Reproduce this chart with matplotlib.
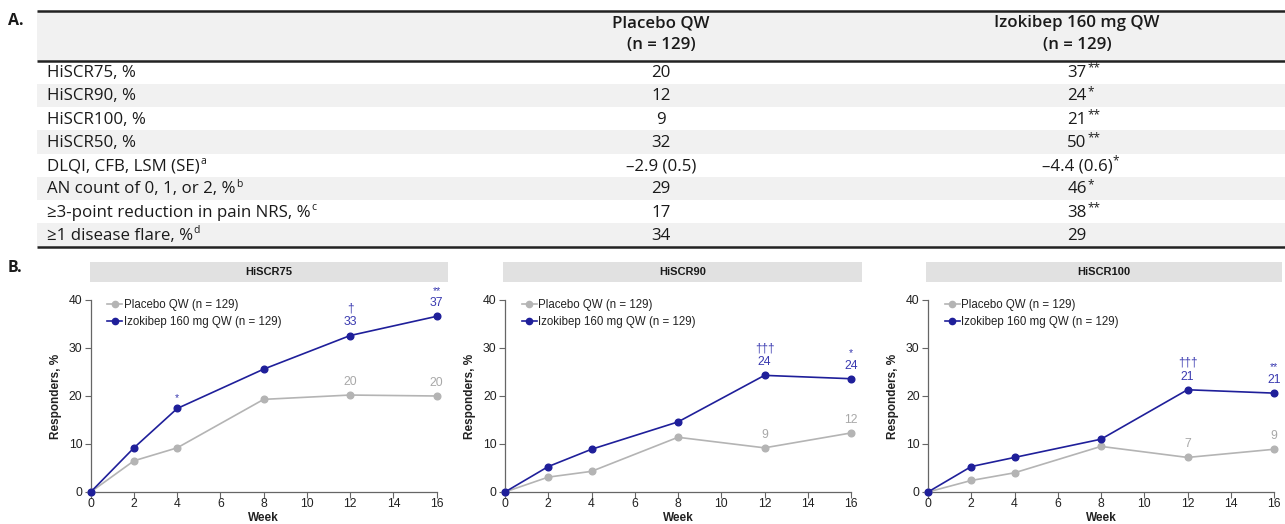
import matplotlib
matplotlib.use("Agg")
import matplotlib.pyplot as plt
from matplotlib.patches import Rectangle

W, H, DPI = 1285, 524, 100

# ---------------- Table (panel A) ----------------
row_labels = ["HiSCR75, %", "HiSCR90, %", "HiSCR100, %", "HiSCR50, %",
              "DLQI, CFB, LSM (SE)", "AN count of 0, 1, or 2, %",
              "≥3-point reduction in pain NRS, %", "≥1 disease flare, %"]
row_notes = ["", "", "", "", "a", "b", "c", "d"]
placebo_col = ["20", "12", "9", "32", "–2.9 (0.5)", "29", "17", "34"]
izokibep_col = ["37", "24", "21", "50", "–4.4 (0.6)", "46", "38", "29"]
izokibep_sig = ["**", "*", "**", "**", "*", "*", "**", ""]
col_headers = [("Placebo QW", "(n = 129)"), ("Izokibep 160 mg QW", "(n = 129)")]

# ---------------- Line charts (panel B) ----------------
weeks = [0, 2, 4, 8, 12, 16]
panel_titles = ["HiSCR75", "HiSCR90", "HiSCR100"]
placebo_hiscr75 = [0, 6.5, 9.2, 19.3, 20.2, 20.0]
izokibep_hiscr75 = [0, 9.2, 17.4, 25.6, 32.6, 36.6]
placebo_hiscr90 = [0, 3.1, 4.3, 11.4, 9.2, 12.3]
izokibep_hiscr90 = [0, 5.3, 8.9, 14.6, 24.3, 23.6]
placebo_hiscr100 = [0, 2.4, 4.0, 9.5, 7.2, 8.9]
izokibep_hiscr100 = [0, 5.3, 7.2, 11.0, 21.3, 20.6]
labelled_weeks = [12, 16]
sig_hiscr75 = {4: "*", 12: "†", 16: "**"}
sig_hiscr90 = {12: "†††", 16: "*"}
sig_hiscr100 = {12: "†††", 16: "**"}
legend_labels = ["Placebo QW (n = 129)", "Izokibep 160 mg QW (n = 129)"]

placebo_series = [placebo_hiscr75, placebo_hiscr90, placebo_hiscr100]
izokibep_series = [izokibep_hiscr75, izokibep_hiscr90, izokibep_hiscr100]
sig_marks = [sig_hiscr75, sig_hiscr90, sig_hiscr100]

TABLE_FONT = ["Open Sans", "DejaVu Sans"]
CHART_FONT = ["Liberation Sans", "DejaVu Sans"]
BLUE = "#1f1f9a"
BLUE_TXT = "#3a3ab0"
GREY = "#b4b4b4"
GREY_TXT = "#a8a8a8"
BAND = "#f1f1f1"
INK = "#1a1a1a"

fig = plt.figure(figsize=(W / DPI, H / DPI), dpi=DPI)
canvas = fig.add_axes([0, 0, 1, 1])
canvas.set_xlim(0, W)
canvas.set_ylim(H, 0)
canvas.axis("off")
renderer = fig.canvas.get_renderer()


def text_sup(x, y, main, sup, size, ha="left", sup_size=None, color=INK):
    t = canvas.text(x, y, main, ha=ha, va="center", fontsize=size,
                    family=TABLE_FONT, color=color)
    if sup:
        bb = t.get_window_extent(renderer=renderer)
        x_end = canvas.transData.inverted().transform((bb.x1, 0))[0]
        canvas.text(x_end + 0.5, y - 5, sup, ha="left", va="center",
                    fontsize=sup_size or size * 0.62, family=TABLE_FONT,
                    color=color)


# table geometry (pixel units)
tx0, tx1 = 37, W
top_rule, head_rule, bottom_rule = 11, 60.5, 246.5
row_h = (bottom_rule - head_rule) / len(row_labels)
col_x = [661, 1077]
BODY = 12.2

canvas.add_patch(Rectangle((tx0, top_rule), tx1 - tx0, head_rule - top_rule,
                           facecolor=BAND, edgecolor="none"))
for i in range(len(row_labels)):
    if i % 2 == 1:
        canvas.add_patch(Rectangle((tx0, head_rule + i * row_h), tx1 - tx0, row_h,
                                   facecolor=BAND, edgecolor="none"))
for yr in (top_rule, head_rule, bottom_rule):
    canvas.plot([tx0, tx1], [yr, yr], color="#222222", lw=1.8,
                solid_capstyle="butt")

canvas.text(8, 21, "A.", fontsize=11.5, fontweight="bold", family=TABLE_FONT,
            va="center", ha="left", color=INK)
for cx, (h1, h2) in zip(col_x, col_headers):
    canvas.text(cx, 23, h1, ha="center", va="center", fontsize=12.2,
                fontweight="semibold", family=TABLE_FONT, color=INK)
    canvas.text(cx, 45, h2, ha="center", va="center", fontsize=12.2,
                fontweight="semibold", family=TABLE_FONT, color=INK)

for i, (lab, note, pv, iv, sg) in enumerate(zip(row_labels, row_notes, placebo_col,
                                                izokibep_col, izokibep_sig)):
    yc = head_rule + (i + 0.5) * row_h + 1
    text_sup(47, yc, lab, note, BODY, sup_size=7.5)
    text_sup(col_x[0], yc, pv, "", BODY, ha="center")
    text_sup(col_x[1], yc, iv, sg, BODY, ha="center", sup_size=8.5)

# ---------------- panel B ----------------
canvas.text(8, 268, "B.", fontsize=11.5, fontweight="bold", family=TABLE_FONT,
            va="center", ha="left", color=INK)

axes_left = [90.7, 505, 928]
axes_width = 346
strip_spans = [(90, 448), (503, 862), (926, 1282)]
ax_bottom_px, ax_top_px = 492, 300

for k in range(3):
    s0, s1 = strip_spans[k]
    canvas.add_patch(Rectangle((s0, 262), s1 - s0, 20, facecolor="#e1e1e1",
                               edgecolor="none"))
    canvas.text((s0 + s1) / 2, 272, panel_titles[k], ha="center", va="center",
                fontsize=8, fontweight="bold", family=CHART_FONT, color=INK)

    ax = fig.add_axes([axes_left[k] / W, (H - ax_bottom_px) / H,
                       axes_width / W, (ax_bottom_px - ax_top_px) / H])
    ax.patch.set_alpha(0)
    pl, = ax.plot(weeks, placebo_series[k], color=GREY, lw=1.2, marker="o",
                  ms=4.8, mfc=GREY, mec=GREY, clip_on=False, zorder=3)
    iz, = ax.plot(weeks, izokibep_series[k], color=BLUE, lw=1.2, marker="o",
                  ms=4.8, mfc=BLUE, mec=BLUE, clip_on=False, zorder=4)
    ax.set_xlim(0, 16)
    ax.set_ylim(0, 40)
    ax.set_xticks(range(0, 17, 2))
    ax.set_yticks(range(0, 41, 10))
    for sp in ("top", "right"):
        ax.spines[sp].set_visible(False)
    for sp in ("left", "bottom"):
        ax.spines[sp].set_color("#666666")
        ax.spines[sp].set_linewidth(0.9)
    ax.tick_params(axis="both", colors="#666666", labelcolor="#222222",
                   labelsize=8.8, length=4, width=0.8)
    ax.tick_params(axis="x", pad=0.5)
    ax.tick_params(axis="y", pad=2)
    for lbl in ax.get_xticklabels() + ax.get_yticklabels():
        lbl.set_family(CHART_FONT)
    ax.set_xlabel("Week", fontsize=8.5, fontweight="bold", family=CHART_FONT,
                  labelpad=1.5, color="#222222")
    ax.set_ylabel("Responders, %", fontsize=8.5, fontweight="bold",
                  family=CHART_FONT, labelpad=5, color="#222222")

    leg = ax.legend([pl, iz], legend_labels, loc="upper left",
                    bbox_to_anchor=(0.035, 1.03), frameon=False,
                    handlelength=1.3, handletextpad=0.15, labelspacing=0.45,
                    borderaxespad=0, prop={"family": CHART_FONT, "size": 8.3})
    for t in leg.get_texts():
        t.set_color("#222222")
    for h in leg.legend_handles:
        h.set_markersize(4.5)

    # value labels at the last two visits
    for wk in labelled_weeks:
        j = weeks.index(wk)
        pv = placebo_series[k][j]
        ivv = izokibep_series[k][j]
        ax.annotate(f"{pv:.0f}", (wk, pv), xytext=(0, 9.5),
                    textcoords="offset points", ha="center", va="center",
                    fontsize=8.8, color=GREY_TXT, family=CHART_FONT)
        ax.annotate(f"{ivv:.0f}", (wk, ivv), xytext=(0, 9.5),
                    textcoords="offset points", ha="center", va="center",
                    fontsize=8.8, color=BLUE_TXT, family=CHART_FONT)
    # significance markers
    for wk, mark in sig_marks[k].items():
        j = weeks.index(wk)
        ivv = izokibep_series[k][j]
        off = 19.5 if wk in labelled_weeks else 8.5
        is_star = "*" in mark
        ax.annotate(mark, (wk, ivv), xytext=(0, off + (-1.0 if is_star else 0)),
                    textcoords="offset points", ha="center", va="center",
                    fontsize=7.5 if is_star else 8.5, color=BLUE_TXT,
                    family=CHART_FONT)

fig.savefig("out.png", dpi=DPI)
